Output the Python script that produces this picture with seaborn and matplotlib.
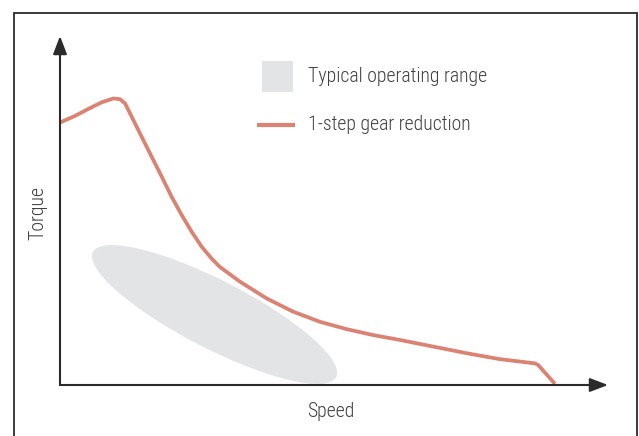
import matplotlib
matplotlib.use("Agg")
import matplotlib.pyplot as plt
import seaborn as sns
import pandas as pd
from matplotlib.patches import Circle, Rectangle
from matplotlib.lines import Line2D
from matplotlib.transforms import Affine2D
from matplotlib import font_manager

# ---- data (arbitrary units, 0-100 on each axis) ----
speed = [0, 2.74, 5.16, 7.61, 9.73, 10.95, 11.86, 13.08, 14.91, 16.73, 18.56,
         20.38, 22.21, 24.03, 25.86, 27.68, 29.20, 32.85, 37.72, 42.57,
         47.45, 52.32, 57.17, 62.04, 68.12, 74.22, 80.29, 86.68, 87.28, 90.33]
torque = [75.2, 77.1, 79.1, 81.0, 82.1, 81.9, 80.7, 76.9, 71.1, 65.4, 59.7,
          53.9, 48.7, 43.9, 39.6, 36.2, 33.8, 29.6, 24.8, 21.0,
          18.1, 16.0, 14.3, 12.9, 11.0, 9.1, 7.4, 6.2, 5.7, 0.3]
series_label = "1-step gear reduction"
range_label = "Typical operating range"
x_label = "Speed"
y_label = "Torque"
# operating range ellipse: centre and two conjugate semi-axis vectors (data units)
range_center = (28.2, 20.2)
range_axis_major = (22.19, -17.91)
range_axis_minor = (2.84, 8.66)

line_color = "#db8272"
fill_color = "#e3e4e6"
text_color = "#404040"
axis_color = "#2b2b2b"

sns.set_style("white")
names = {f.name for f in font_manager.fontManager.ttflist}
fam = "DejaVu Sans"
for cand in ["Roboto Condensed", "Liberation Sans Narrow", "Open Sans Condensed", "Lato"]:
    if cand in names:
        fam = cand
        break
plt.rcParams["font.family"] = [fam, "DejaVu Sans"]
FS = 14.2
FW = "light"

W, H = 639, 436
fig = plt.figure(figsize=(W / 100, H / 100), dpi=100)
ax = fig.add_axes([60 / W, (H - 385) / H, 548 / W, 349 / H])
ax.set_xlim(0, 100)
ax.set_ylim(0, 100)
for s in ax.spines.values():
    s.set_visible(False)
ax.set_xticks([])
ax.set_yticks([])

# operating range ellipse
mtx = [[range_axis_major[0], range_axis_minor[0], range_center[0]],
       [range_axis_major[1], range_axis_minor[1], range_center[1]],
       [0, 0, 1]]
ell = Circle((0, 0), 1, transform=Affine2D(mtx) + ax.transData,
             facecolor=fill_color, edgecolor="none", zorder=1)
ax.add_patch(ell)

df = pd.DataFrame({"Speed": speed, "Torque": torque})
sns.lineplot(data=df, x="Speed", y="Torque", sort=False, ax=ax, color=line_color,
             lw=2.7, solid_joinstyle="round", solid_capstyle="butt", zorder=3)
ax.set_xlabel("")
ax.set_ylabel("")

# axes with arrows
arrow = dict(arrowstyle="-|>,head_length=1.1,head_width=0.42", color=axis_color,
             lw=1.5, shrinkA=0, shrinkB=0)
ax.annotate("", xy=(1, 0), xytext=(0, 0), xycoords="axes fraction",
            arrowprops=arrow, annotation_clip=False, zorder=4)
ax.annotate("", xy=(0, 1), xytext=(0, 0), xycoords="axes fraction",
            arrowprops=arrow, annotation_clip=False, zorder=4)

# axis labels
fig.text(331 / W, 1 - 411 / H, x_label, ha="center", va="center",
         fontsize=FS, fontweight=FW, color=text_color)
fig.text(38 / W, 1 - 213 / H, y_label, ha="center", va="center",
         rotation=90, fontsize=FS, fontweight=FW, color=text_color)

# legend (manual)
fig.patches.append(Rectangle((262 / W, 1 - 92 / H), 31 / W, 31 / H,
                             transform=fig.transFigure, facecolor=fill_color,
                             edgecolor="none"))
fig.lines.append(Line2D([257 / W, 295 / W], [1 - 125 / H, 1 - 125 / H],
                        transform=fig.transFigure, color=line_color, lw=3.0,
                        solid_capstyle="butt"))
fig.text(308 / W, 1 - 76 / H, range_label, ha="left", va="center",
         fontsize=FS, fontweight=FW, color=text_color)
fig.text(308 / W, 1 - 125 / H, series_label, ha="left", va="center",
         fontsize=FS, fontweight=FW, color=text_color)

# outer frame
fig.patches.append(Rectangle((14 / W, -0.05), 623 / W, 1.05 - 13 / H,
                             transform=fig.transFigure, facecolor="none",
                             edgecolor=axis_color, lw=1.3, clip_on=False))

fig.savefig("out.png", dpi=100)
